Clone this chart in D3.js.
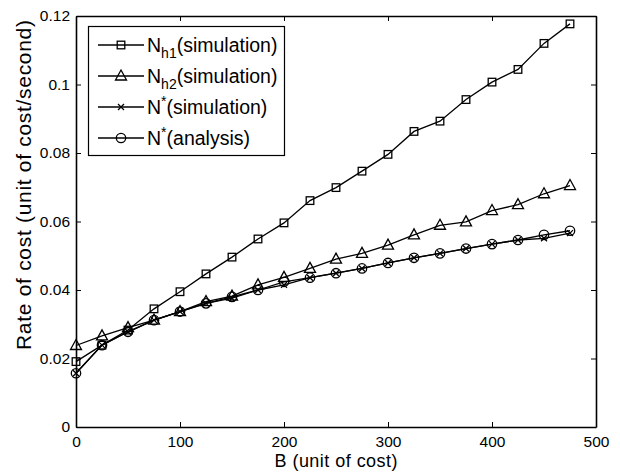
<!doctype html>
<html>
<head>
<meta charset="utf-8">
<script src="https://cdn.jsdelivr.net/npm/d3@7/dist/d3.min.js"></script>
<style>
body { margin: 0; background: #fff; }
text { font-family: "Liberation Sans", Arial, sans-serif; fill: #000; }
</style>
</head>
<body>
<script>

var B = [0, 25, 50, 75, 100, 125, 150, 175, 200, 225, 250, 275, 300, 325, 350, 375, 400, 425, 450, 475];
var nh1Sim = [0.0191, 0.0239, 0.0283, 0.0345, 0.0395, 0.0447, 0.0496, 0.0549, 0.0596, 0.0661,
  0.0699, 0.0747, 0.0796, 0.0863, 0.0893, 0.0956, 0.1007, 0.1044, 0.1120, 0.1177];
var nh2Sim = [0.0238, 0.0266, 0.0290, 0.0312, 0.0337, 0.0366, 0.0382, 0.0415, 0.0437, 0.0463,
  0.0490, 0.0507, 0.0531, 0.0561, 0.0589, 0.0599, 0.0632, 0.0649, 0.0681, 0.0705];
var nStarSim = [0.0157, 0.0239, 0.0278, 0.0312, 0.0337, 0.0361, 0.0376, 0.0400, 0.0415, 0.0436,
  0.0449, 0.0463, 0.0479, 0.0494, 0.0507, 0.0521, 0.0534, 0.0546, 0.0551, 0.0566];
var nStarAna = [0.0157, 0.0239, 0.0278, 0.0312, 0.0337, 0.0361, 0.0380, 0.0400, 0.0424, 0.0436,
  0.0449, 0.0463, 0.0479, 0.0494, 0.0507, 0.0521, 0.0534, 0.0546, 0.0561, 0.0573];
var xTicks = [0, 100, 200, 300, 400, 500];
var yTicks = [0, 0.02, 0.04, 0.06, 0.08, 0.1, 0.12];

var W = 620, H = 473;
var m = {left: 76, right: 24, top: 16, bottom: 46};

var svg = d3.select("body").append("svg")
  .attr("width", W).attr("height", H);

var x = d3.scaleLinear().domain([0, 500]).range([m.left, W - m.right]);
var y = d3.scaleLinear().domain([0, 0.12]).range([H - m.bottom, m.top]);

// frame + inward ticks on all four sides
var tick = 5;
svg.append("g").attr("transform", "translate(0," + y(0) + ")")
  .call(d3.axisBottom(x).tickValues(xTicks).tickSizeInner(-tick).tickSizeOuter(0).tickPadding(9)
    .tickFormat(d3.format("d")));
svg.append("g").attr("transform", "translate(0," + y(0.12) + ")")
  .call(d3.axisTop(x).tickValues(xTicks).tickSizeInner(-tick).tickSizeOuter(0).tickFormat(""));
svg.append("g").attr("transform", "translate(" + x(0) + ",0)")
  .call(d3.axisLeft(y).tickValues(yTicks).tickSizeInner(-tick).tickSizeOuter(0).tickPadding(6)
    .tickFormat(d => d === 0 ? "0" : d3.format("")(+d.toFixed(2))));
svg.append("g").attr("transform", "translate(" + x(500) + ",0)")
  .call(d3.axisRight(y).tickValues(yTicks).tickSizeInner(-tick).tickSizeOuter(0).tickFormat(""));

svg.selectAll(".domain").attr("stroke", "#000").attr("stroke-width", 1.6);
svg.selectAll(".tick line").attr("stroke", "#000").attr("stroke-width", 1);
svg.selectAll(".tick text").style("font-size", "15.5px").style("font-family", "Liberation Sans, Arial, sans-serif");

svg.append("text")
  .attr("x", (x(0) + x(500)) / 2).attr("y", 467)
  .attr("text-anchor", "middle").style("font-size", "18px")
  .attr("textLength", 123).attr("lengthAdjust", "spacing")
  .text("B (unit of cost)");
svg.append("text")
  .attr("transform", "translate(31,185) rotate(-90)")
  .attr("text-anchor", "middle").style("font-size", "21px")
  .attr("textLength", 330).attr("lengthAdjust", "spacing")
  .text("Rate of cost (unit of cost/second)");

function drawMarker(g, type) {
  if (type === "square") {
    g.append("rect").attr("x", -3.8).attr("y", -3.8).attr("width", 7.6).attr("height", 7.6)
      .attr("fill", "none").attr("stroke", "#000").attr("stroke-width", 1.3);
  } else if (type === "triangle") {
    g.append("path").attr("d", "M0,-6L5.5,4L-5.5,4Z")
      .attr("fill", "none").attr("stroke", "#000").attr("stroke-width", 1.3);
  } else if (type === "cross") {
    g.append("path").attr("d", "M-3,-3L3,3M-3,3L3,-3")
      .attr("fill", "none").attr("stroke", "#000").attr("stroke-width", 1.3);
  } else {
    g.append("circle").attr("r", 4.7)
      .attr("fill", "none").attr("stroke", "#000").attr("stroke-width", 1.3);
  }
}

var series = [
  {vals: nh1Sim, marker: "square", base: "N", sub: "h1", sup: null, tail: "(simulation)"},
  {vals: nh2Sim, marker: "triangle", base: "N", sub: "h2", sup: null, tail: "(simulation)"},
  {vals: nStarSim, marker: "cross", base: "N", sub: null, sup: "*", tail: "(simulation)"},
  {vals: nStarAna, marker: "circle", base: "N", sub: null, sup: "*", tail: "(analysis)"}
];

var line = d3.line().x((d, i) => x(B[i])).y(d => y(d));

series.forEach(s => {
  svg.append("path").datum(s.vals).attr("d", line)
    .attr("fill", "none").attr("stroke", "#000").attr("stroke-width", 1.3);
  s.vals.forEach((v, i) => {
    drawMarker(svg.append("g").attr("transform", "translate(" + x(B[i]) + "," + y(v) + ")"), s.marker);
  });
});

// legend
var lg = svg.append("g");
lg.append("rect").attr("x", 88.5).attr("y", 26.5).attr("width", 196).attr("height", 129)
  .attr("fill", "#fff").attr("stroke", "#000").attr("stroke-width", 1.2);
series.forEach((s, i) => {
  var ly = 45 + i * 31;
  lg.append("line").attr("x1", 98).attr("x2", 144).attr("y1", ly).attr("y2", ly)
    .attr("stroke", "#000").attr("stroke-width", 1.3);
  drawMarker(lg.append("g").attr("transform", "translate(121," + ly + ")"), s.marker);
  var t = lg.append("text").attr("x", 147).attr("y", ly + 7).style("font-size", "19.5px");
  t.append("tspan").text(s.base);
  if (s.sub) t.append("tspan").attr("dy", 6).style("font-size", "14px").text(s.sub);
  if (s.sup) t.append("tspan").attr("dy", -8).style("font-size", "14px").text(s.sup);
  t.append("tspan").attr("dy", s.sub ? -6 : 8).text(s.tail);
});

</script>
</body>
</html>
